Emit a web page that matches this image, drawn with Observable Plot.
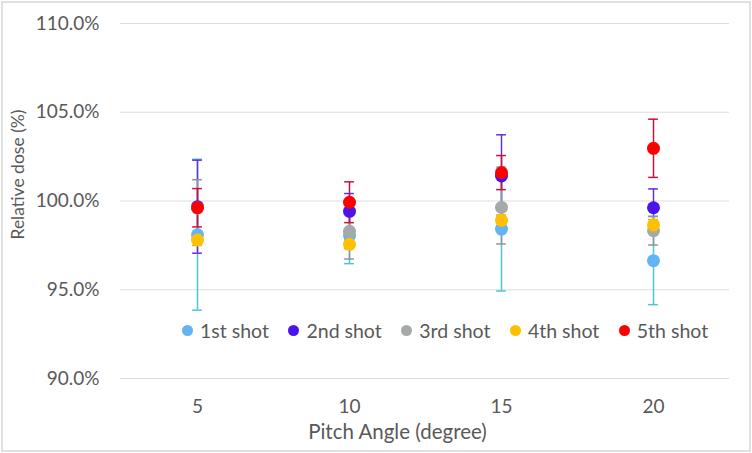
<!DOCTYPE html>
<html>
<head>
<meta charset="utf-8">
<script src="https://cdn.jsdelivr.net/npm/d3@7"></script>
<script src="https://cdn.jsdelivr.net/npm/@observablehq/plot@0.6"></script>
<style>
  html, body { margin: 0; padding: 0; background: #fff; }
  #wrap { position: relative; width: 752px; height: 453px; overflow: hidden; background: #fff; }
  #border { position: absolute; left: 1px; top: 1px; width: 746px; height: 447px; border: 2px solid #dde1e1; pointer-events: none; }
  #legend { position: absolute; left: 182px; top: 319px; display: flex; align-items: center; font-family: Lato, sans-serif; font-size: 19.5px; color: #595959; }
  #legend .item { display: flex; align-items: center; margin-right: 19.5px; }
  #legend .sw { width: 11px; height: 11px; border-radius: 50%; margin-right: 7px; }
</style>
</head>
<body>
<div id="wrap"><div id="border"></div><div id="legend"></div></div>
<script>
// Data (relative dose, %)
const angles = [5, 10, 15, 20];
const seriesNames = ["1st shot", "2nd shot", "3rd shot", "4th shot", "5th shot"];
const dotColors = ["#63b4f4", "#4a14ee", "#a5a9a9", "#ffc000", "#ff0000"];
const barColors = ["#4cc6d4", "#6330d8", "#8f9595", "#e0a800", "#c8143a"];

const mean1 = [98.1, 98.05, 98.42, 96.64];
const err1  = [4.25, 1.58, 3.49, 2.48];
const mean2 = [99.68, 99.42, 101.41, 99.62];
const err2  = [2.62, 1.0, 2.32, 1.06];
const mean3 = [99.6, 98.29, 99.64, 98.33];
const err3  = [1.6, 1.56, 2.06, 0.81];
const mean4 = [97.8, 97.56, 98.91, 98.65];
const err4  = [0.3, 0.25, 0.3, 0.3];
const mean5 = [99.62, 99.93, 101.6, 102.97];
const err5  = [1.08, 1.15, 0.96, 1.64];

const yTicks = [90, 95, 100, 105, 110];

const means = [mean1, mean2, mean3, mean4, mean5];
const errs = [err1, err2, err3, err4, err5];
const rows = [];
seriesNames.forEach((s, i) => {
  angles.forEach((a, j) => {
    rows.push({series: s, angle: a, mean: means[i][j], err: errs[i][j], fill: dotColors[i], stroke: barColors[i]});
  });
});

const plotWidth = 752, mL = 120, mR = 23;
const capHalf = 5;
const capInset = ((plotWidth - mL - mR) / angles.length) / 2 - capHalf;

const chart = Plot.plot({
  width: plotWidth,
  height: 453,
  marginLeft: mL,
  marginRight: mR,
  marginTop: 23,
  marginBottom: 75,
  style: {fontFamily: "Lato, sans-serif", fontSize: "19px", color: "#595959", background: "transparent"},
  x: {type: "band", domain: angles, padding: 0, label: null},
  y: {domain: [90, 110], label: null},
  color: {type: "identity"},
  marks: [
    Plot.gridY(yTicks, {stroke: "#dedede", strokeOpacity: 1, strokeWidth: 1.2}),
    Plot.axisY(yTicks, {tickSize: 0, tickPadding: 21, tickFormat: d => d.toFixed(1) + "%", label: null, fill: "#595959"}),
    Plot.axisX(angles, {tickSize: 0, tickPadding: 21, label: null, fill: "#595959"}),
    Plot.ruleX(rows, {x: "angle", y1: d => d.mean - d.err, y2: d => d.mean + d.err, stroke: "stroke", strokeWidth: 1.5}),
    Plot.tickY(rows, {x: "angle", y: d => d.mean + d.err, stroke: "stroke", strokeWidth: 1.5, insetLeft: capInset, insetRight: capInset}),
    Plot.tickY(rows, {x: "angle", y: d => d.mean - d.err, stroke: "stroke", strokeWidth: 1.5, insetLeft: capInset, insetRight: capInset}),
    Plot.dot(rows, {x: "angle", y: "mean", fill: "fill", r: 6.5}),
    Plot.text(["Relative dose (%)"], {frameAnchor: "left", textAnchor: "middle", rotate: -90, dx: -102, dy: -26.5, fill: "#595959", fontSize: 17.5, lineAnchor: "middle"}),
    Plot.text(["Pitch Angle (degree)"], {frameAnchor: "bottom", textAnchor: "middle", dx: -27.5, dy: 54, fill: "#595959", fontSize: 20.5, lineAnchor: "middle"})
  ]
});
chart.style.position = "absolute";
chart.style.left = "0px";
chart.style.top = "0px";
const wrap = document.getElementById("wrap");
wrap.insertBefore(chart, wrap.firstChild);

const legend = document.getElementById("legend");
seriesNames.forEach((s, i) => {
  const item = document.createElement("div");
  item.className = "item";
  const sw = document.createElement("span");
  sw.className = "sw";
  sw.style.background = dotColors[i];
  const t = document.createElement("span");
  t.textContent = s;
  item.appendChild(sw);
  item.appendChild(t);
  legend.appendChild(item);
});
</script>
</body>
</html>
